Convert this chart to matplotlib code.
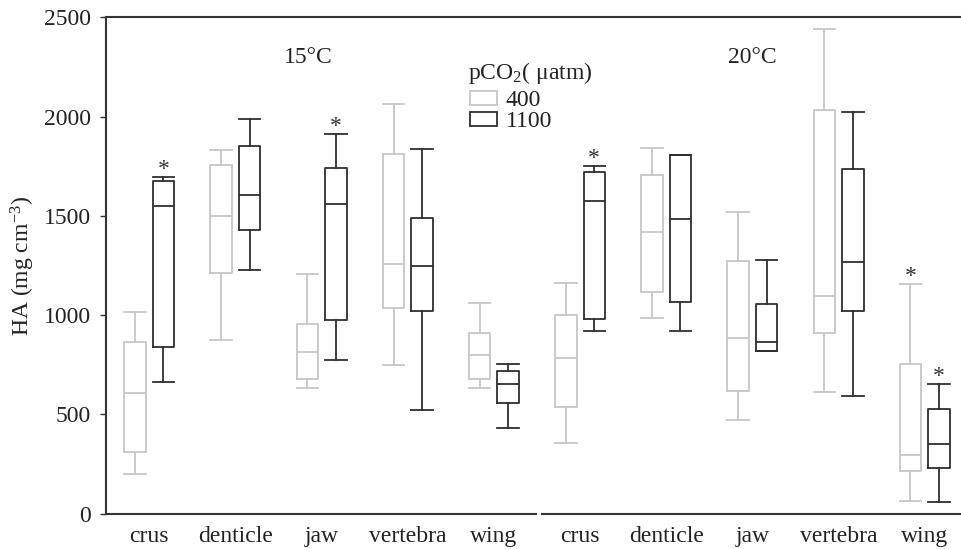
import matplotlib
matplotlib.use('Agg')
import matplotlib.pyplot as plt
from matplotlib.patches import Patch

plt.rcParams['font.family'] = ['Liberation Serif', 'DejaVu Serif']
plt.rcParams['mathtext.fontset'] = 'custom'
plt.rcParams['mathtext.rm'] = 'Liberation Serif'
plt.rcParams['mathtext.it'] = 'Liberation Serif:italic'

tissues = ['crus', 'denticle', 'jaw', 'vertebra', 'wing']
temps = ['15°C', '20°C']
co2_levels = ['400', '1100']

# whisker low, q1, median, q3, whisker high  (one row per tissue)
t15_400 = [
    [200, 312, 609, 863, 1018],
    [874, 1213, 1499, 1755, 1834],
    [634, 678, 814, 955, 1209],
    [749, 1035, 1257, 1813, 2064],
    [634, 680, 798, 909, 1061],
]
t15_1100 = [
    [662, 842, 1548, 1675, 1698],
    [1225, 1428, 1605, 1852, 1990],
    [772, 975, 1559, 1739, 1910],
    [521, 1019, 1248, 1488, 1838],
    [431, 556, 655, 719, 752],
]
t20_400 = [
    [357, 537, 785, 1001, 1163],
    [985, 1116, 1421, 1704, 1840],
    [473, 616, 885, 1275, 1517],
    [611, 909, 1098, 2032, 2440],
    [65, 216, 298, 754, 1156],
]
t20_1100 = [
    [920, 981, 1573, 1721, 1750],
    [920, 1066, 1483, 1804, 1804],
    [819, 819, 863, 1058, 1278],
    [593, 1022, 1266, 1734, 2025],
    [58, 228, 350, 528, 651],
]
# asterisks: (temperature, tissue, co2 level)
signif = [(0, 0, 1), (0, 2, 1), (1, 0, 1), (1, 4, 0), (1, 4, 1)]

colors = ['#c6c6c6', '#2e2e2e']
groups = [[t15_400, t15_1100], [t20_400, t20_1100]]
off = 0.165
bw = 0.25
fs = 17

fig = plt.figure(figsize=(9.61, 5.49), dpi=100)
ax = fig.add_axes([0.1103, 0.0643, 0.999 - 0.1103, 0.9685 - 0.0643])

for ti, pair in enumerate(groups):
    for ci, summ in enumerate(pair):
        stats = [dict(whislo=s[0], q1=s[1], med=s[2], q3=s[3], whishi=s[4], fliers=[])
                 for s in summ]
        pos = [ti * 5 + k + (2 * ci - 1) * off for k in range(5)]
        c = colors[ci]
        lp = dict(color=c, lw=1.3)
        ax.bxp(stats, positions=pos, widths=bw, capwidths=bw, showfliers=False,
               manage_ticks=False, boxprops=lp, whiskerprops=lp, capprops=lp,
               medianprops=lp)

for ti, k, ci in signif:
    s = groups[ti][ci][k]
    ax.text(ti * 5 + k + (2 * ci - 1) * off, s[4] + 10, '*', ha='center',
            va='baseline', fontsize=fs, color='#333333')

for ti, t in enumerate(temps):
    ax.text(ti * 5 + 1.85 + (0.15 if ti else 0), 2300, t, ha='center', va='center',
            fontsize=fs, color='#222222')

ax.set_xlim(-0.502, 9.41)
ax.set_ylim(0, 2500)
ax.set_xticks(range(10))
ax.set_xticklabels(tissues * 2, fontsize=fs, color='#222222')
ax.tick_params(axis='x', length=0, pad=9)
ax.set_yticks([0, 500, 1000, 1500, 2000, 2500])
ax.tick_params(axis='y', length=4, width=1, color='#333333', pad=7,
               labelsize=fs, labelcolor='#222222')
ax.set_ylabel('HA (mg cm$^{-3}$)', fontsize=fs, color='#222222', labelpad=5)

for side in ['right', 'bottom']:
    ax.spines[side].set_visible(False)
for side in ['left', 'top']:
    ax.spines[side].set_color('#333333')
    ax.spines[side].set_linewidth(1.5)
# broken baseline between the two temperature panels
ax.plot([-0.502, 4.49], [0, 0], color='#333333', lw=1.5, clip_on=False)
ax.plot([4.555, 9.42], [0, 0], color='#333333', lw=1.5, clip_on=False)

ax.text(0.424, 0.888, 'pCO$_2$( μatm)', transform=ax.transAxes, ha='left',
        va='center', fontsize=fs, color='#222222')
handles = [Patch(facecolor='white', edgecolor=c, lw=1.3) for c in colors]
leg = ax.legend(handles, co2_levels, loc='upper left',
                bbox_to_anchor=(0.426, 0.853), frameon=False, fontsize=fs,
                handlelength=1.15, handleheight=0.55, handletextpad=0.38,
                labelspacing=0.0, borderpad=0, borderaxespad=0)
for t in leg.get_texts():
    t.set_color('#222222')

fig.savefig('out.png', dpi=100)
